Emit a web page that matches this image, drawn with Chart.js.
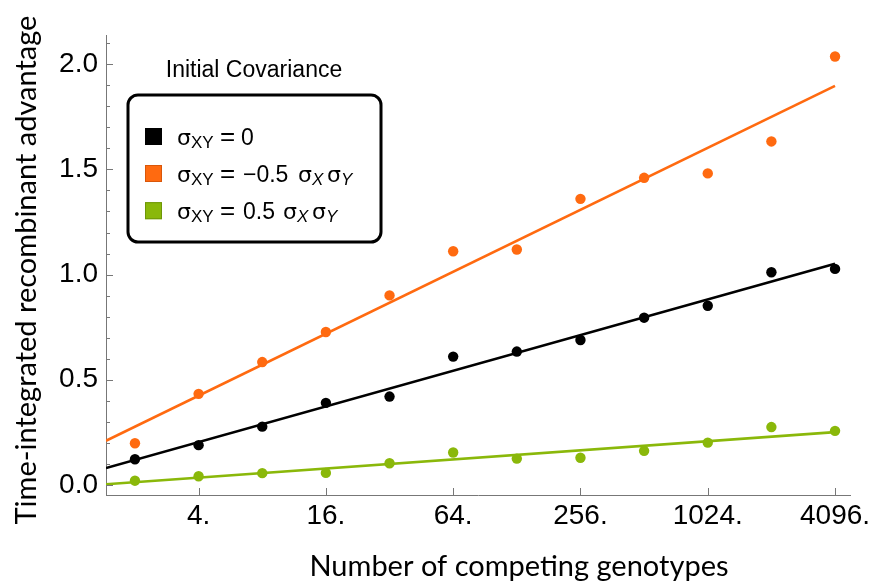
<!DOCTYPE html>
<html>
<head>
<meta charset="utf-8">
<script src="https://cdn.jsdelivr.net/npm/chart.js@4/dist/chart.umd.min.js"></script>
<style>
  html, body { margin: 0; padding: 0; background: #ffffff; }
  #wrap { width: 876px; height: 585px; position: relative; }
</style>
</head>
<body>
<div id="wrap"><canvas id="chart" width="876" height="585"></canvas></div>
<script>
// Number of competing genotypes (x) and time-integrated recombinant advantage (y)
const genotypes = [2, 4, 8, 16, 32, 64, 128, 256, 512, 1024, 2048, 4096];
const advZeroCov = [0.122, 0.189, 0.277, 0.390, 0.420, 0.610, 0.634, 0.689, 0.795, 0.852, 1.011, 1.027];
const advNegCov  = [0.198, 0.433, 0.584, 0.727, 0.901, 1.111, 1.119, 1.360, 1.460, 1.481, 1.633, 2.037];
const advPosCov  = [0.020, 0.041, 0.056, 0.057, 0.103, 0.154, 0.125, 0.129, 0.162, 0.201, 0.275, 0.257];

// Fitted trend lines (value at the start and end of each line)
const fitX       = [1.459, 4096];
const fitZeroCov = [0.080, 1.051];
const fitNegCov  = [0.210, 1.897];
const fitPosCov  = [0.003, 0.251];

// Axis ticks
const xTickValues = [4, 16, 64, 256, 1024, 4096];
const yTickValues = [0, 0.5, 1.0, 1.5, 2.0];
const yMinorTicks = [0, 0.1, 0.2, 0.3, 0.4, 0.5, 0.6, 0.7, 0.8, 0.9, 1.0, 1.1, 1.2, 1.3, 1.4, 1.5, 1.6, 1.7, 1.8, 1.9, 2.0, 2.1];

const seriesColors = ['#000000', '#FF6A10', '#8AB80A'];
const swatchEdges  = ['#000000', '#D9570A', '#6E9608'];

const pts = (xs, ys) => xs.map((x, i) => ({ x: x, y: ys[i] }));

function pointSet(values, color) {
  return { data: pts(genotypes, values), backgroundColor: color, borderColor: color,
           pointRadius: 5.2, pointBorderWidth: 0, showLine: false };
}
function fitSet(values, color) {
  return { data: pts(fitX, values), borderColor: color, backgroundColor: color,
           pointRadius: 0, borderWidth: 2.6, showLine: true };
}

// Draws text pieces at offsets from the row start (main size / subscript / italic)
function drawRich(ctx, x, y, parts) {
  parts.forEach(p => {
    const family = p.greek ? '"DejaVu Sans"' : '"Liberation Sans"';
    ctx.font = (p.italic ? 'italic ' : '') + p.size + 'px ' + family;
    ctx.fillText(p.t, x + p.at, y + (p.dy || 0));
  });
}

const decorations = {
  id: 'decorations',
  afterDraw(chart) {
    const ctx = chart.ctx;
    const xs = chart.scales.x, ys = chart.scales.y;
    const area = chart.chartArea;
    ctx.save();

    // inward tick marks
    ctx.strokeStyle = '#777777';
    ctx.lineWidth = 1;
    ctx.beginPath();
    xTickValues.forEach(v => {
      const px = Math.round(xs.getPixelForValue(v)) + 0.5;
      ctx.moveTo(px, area.bottom);
      ctx.lineTo(px, area.bottom - 7);
    });
    yMinorTicks.forEach(v => {
      const py = Math.round(ys.getPixelForValue(v)) + 0.5;
      const major = yTickValues.some(m => Math.abs(m - v) < 1e-9);
      ctx.moveTo(area.left, py);
      ctx.lineTo(area.left + (major ? 7 : 4), py);
    });
    ctx.stroke();

    // axis titles
    ctx.fillStyle = '#000000';
    ctx.font = '29px Lato';
    ctx.textAlign = 'center';
    ctx.textBaseline = 'alphabetic';
    ctx.fillText('Number of competing genotypes', 519, 576);
    ctx.save();
    ctx.translate(36, 270);
    ctx.rotate(-Math.PI / 2);
    ctx.fillText('Time-integrated recombinant advantage', 0, 0);
    ctx.restore();

    // legend title and box
    ctx.font = '23px "Liberation Sans"';
    ctx.fillText('Initial Covariance', 254, 77);
    ctx.lineWidth = 3;
    ctx.strokeStyle = '#000000';
    ctx.beginPath();
    ctx.roundRect(128, 95, 253, 147, 10);
    ctx.stroke();

    // legend entries
    const rows = [136.5, 173.5, 210.7];
    const M = 23, G = 22, S = 17, D = 3.5;
    const labels = [
      [{ t: 'σ', size: G, greek: true, at: 0 }, { t: 'XY', size: S, dy: D, at: 14 },
       { t: '=', size: M + 3, at: 43 }, { t: '0', size: M, at: 64 }],
      [{ t: 'σ', size: G, greek: true, at: 0 }, { t: 'XY', size: S, dy: D, at: 14 },
       { t: '=', size: M + 3, at: 43 }, { t: '\u22120.5', size: M, at: 66 },
       { t: 'σ', size: G, greek: true, at: 121 }, { t: 'X', size: S, dy: D, italic: true, at: 135 },
       { t: 'σ', size: G, greek: true, at: 150 }, { t: 'Y', size: S, dy: D, italic: true, at: 164 }],
      [{ t: 'σ', size: G, greek: true, at: 0 }, { t: 'XY', size: S, dy: D, at: 14 },
       { t: '=', size: M + 3, at: 43 }, { t: '0.5', size: M, at: 66 },
       { t: 'σ', size: G, greek: true, at: 106 }, { t: 'X', size: S, dy: D, italic: true, at: 120 },
       { t: 'σ', size: G, greek: true, at: 135 }, { t: 'Y', size: S, dy: D, italic: true, at: 149 }]
    ];
    ctx.textAlign = 'left';
    rows.forEach((cy, i) => {
      ctx.fillStyle = chart.data.datasets[i].backgroundColor;
      ctx.fillRect(145, cy - 8.5, 17, 17);
      ctx.lineWidth = 1;
      ctx.strokeStyle = swatchEdges[i];
      ctx.strokeRect(145.5, cy - 8, 16, 16);
      ctx.fillStyle = '#000000';
      drawRich(ctx, 177, cy + 8, labels[i]);
    });

    ctx.restore();
  }
};

new Chart(document.getElementById('chart'), {
  type: 'scatter',
  data: {
    datasets: [
      pointSet(advZeroCov, seriesColors[0]),
      pointSet(advNegCov, seriesColors[1]),
      pointSet(advPosCov, seriesColors[2]),
      fitSet(fitZeroCov, seriesColors[0]),
      fitSet(fitNegCov, seriesColors[1]),
      fitSet(fitPosCov, seriesColors[2])
    ]
  },
  options: {
    responsive: false,
    animation: false,
    events: [],
    layout: { padding: { top: 35, right: 26, left: 0, bottom: 0 } },
    plugins: { legend: { display: false }, tooltip: { enabled: false } },
    scales: {
      x: {
        type: 'logarithmic',
        min: 1.459,
        max: 4821,
        afterBuildTicks: s => { s.ticks = xTickValues.map(v => ({ value: v })); },
        afterFit: s => { s.height = 90; },
        ticks: {
          callback: v => v + '.',
          font: { family: 'Liberation Sans', size: 28 },
          color: '#000000',
          padding: 4,
          maxRotation: 0,
          autoSkip: false
        },
        grid: { display: false, drawTicks: false },
        border: { display: true, color: '#777777', width: 1 }
      },
      y: {
        min: -0.048,
        max: 2.139,
        afterBuildTicks: s => { s.ticks = yTickValues.map(v => ({ value: v })); },
        afterFit: s => { s.width = 106; },
        ticks: {
          callback: v => Number(v).toFixed(1),
          font: { family: 'Liberation Sans', size: 28 },
          color: '#000000',
          padding: 8
        },
        grid: { display: false, drawTicks: false },
        border: { display: true, color: '#777777', width: 1 }
      }
    }
  },
  plugins: [decorations]
});
</script>
</body>
</html>
